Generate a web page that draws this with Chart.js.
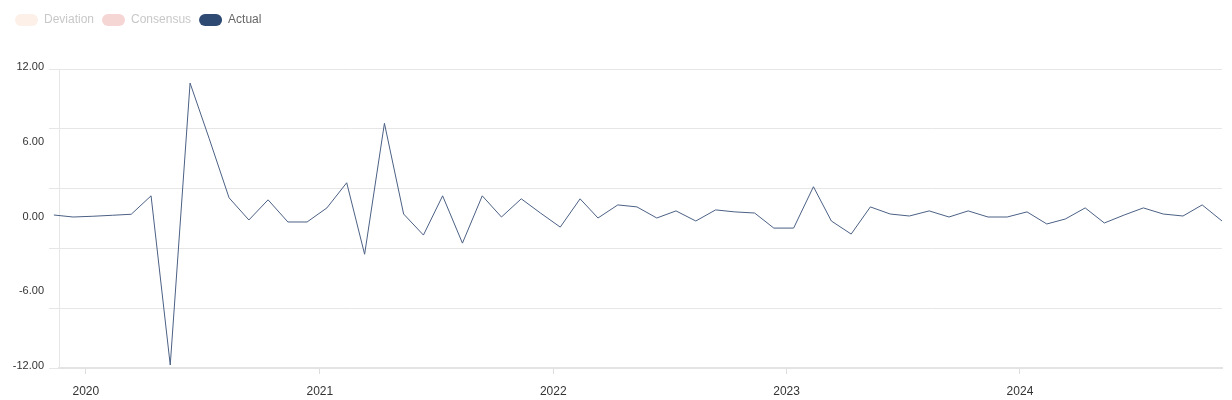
<!DOCTYPE html>
<html>
<head>
<meta charset="utf-8">
<script src="https://cdn.jsdelivr.net/npm/chart.js@4.4.1/dist/chart.umd.min.js"></script>
<style>
  html, body { margin: 0; padding: 0; background: #fff; }
  #wrap { width: 1232px; height: 400px; }
</style>
</head>
<body>
<div id="wrap"><canvas id="myChart"></canvas></div>
<script>
// monthly releases, Nov 2019 .. Nov 2024 (61 points)
const firstYear = 2019;
const firstMonth = 10; // November, 0-based
const releaseDay = 12;
const actual = [
  0.28, 0.12, 0.18, 0.26, 0.34, 1.82, -11.76, 10.87, 6.4, 1.66, -0.12, 1.5,
  -0.28, -0.28, 0.85, 2.87, -2.87, 7.64, 0.36, -1.33, 1.82, -1.98, 1.82, 0.12,
  1.58, 0.44, -0.69, 1.58, 0.04, 1.09, 0.93, 0.04, 0.61, -0.2, 0.69, 0.53,
  0.44, -0.77, -0.77, 2.55, -0.2, -1.25, 0.93, 0.36, 0.2, 0.61, 0.12, 0.61,
  0.12, 0.12, 0.53, -0.44, -0.04, 0.85, -0.36, 0.28, 0.85, 0.36, 0.2, 1.09,
  -0.2
];
const deviation = [];
const consensus = [];
const seriesNames = ["Deviation", "Consensus", "Actual"];
const legendFill = ["#fcf0e8", "#f6d5d5", "#2e4a72"];
const legendText = ["#c8c8c8", "#c8c8c8", "#666666"];
const yearTicks = [2020, 2021, 2022, 2023, 2024];
const yLabelTicks = [-12, -6, 0, 6, 12];
const yGridTicks = [-12, -7.2, -2.4, 2.4, 7.2, 12];
const xStart = Date.UTC(2019, 10, 20);
const xEnd = Date.UTC(2024, 10, 12);

const points = actual.map((v, i) => ({ x: Date.UTC(firstYear, firstMonth + i, releaseDay), y: v }));

Chart.defaults.font.family = 'Arial, "Liberation Sans", sans-serif';

const gridColor = (ctx) => (yGridTicks.includes(ctx.tick.value) ? "#e6e6e6" : "rgba(0,0,0,0)");

// push the plot down below the legend
const legendSpace = {
  id: "legendSpace",
  beforeInit(chart) {
    const fit = chart.legend.fit;
    chart.legend.fit = function () {
      fit.bind(chart.legend)();
      this.height += 33;
    };
  },
};

new Chart(document.getElementById("myChart"), {
  type: "line",
  data: {
    datasets: [
      { label: seriesNames[0], data: deviation, hidden: true, borderColor: legendFill[0] },
      { label: seriesNames[1], data: consensus, hidden: true, borderColor: legendFill[1] },
      {
        label: seriesNames[2],
        data: points,
        borderColor: "#4b6084",
        borderWidth: 1,
        pointRadius: 0,
        tension: 0,
        clip: false,
      },
    ],
  },
  options: {
    responsive: true,
    maintainAspectRatio: false,
    animation: false,
    layout: { padding: { top: 6, left: 7, right: 10, bottom: 0 } },
    plugins: {
      tooltip: { enabled: false },
      legend: {
        position: "top",
        align: "start",
        labels: {
          boxWidth: 23,
          boxHeight: 12,
          padding: 8,
          useBorderRadius: true,
          borderRadius: 6,
          font: { size: 12 },
          generateLabels(chart) {
            return chart.data.datasets.map((ds, i) => ({
              text: ds.label,
              fillStyle: legendFill[i],
              strokeStyle: legendFill[i],
              lineWidth: 0,
              borderRadius: 6,
              fontColor: legendText[i],
              hidden: false,
              datasetIndex: i,
            }));
          },
        },
      },
    },
    scales: {
      x: {
        type: "linear",
        min: xStart,
        max: xEnd,
        afterBuildTicks(scale) {
          scale.ticks = yearTicks.map((y) => ({ value: Date.UTC(y, 0, 1) }));
        },
        afterFit(scale) {
          scale.height = 32;
        },
        grid: { drawOnChartArea: false, drawTicks: true, tickLength: 6, color: "#dddddd" },
        border: { color: "#e3e3e3", width: 2 },
        ticks: {
          padding: 10,
          color: "#333333",
          font: { size: 12 },
          maxRotation: 0,
          autoSkip: false,
          callback: (v) => new Date(v).getUTCFullYear(),
        },
      },
      y: {
        min: -12,
        max: 12,
        afterBuildTicks(scale) {
          scale.ticks = [...new Set([...yGridTicks, ...yLabelTicks])]
            .sort((a, b) => a - b)
            .map((v) => ({ value: v }));
        },
        afterFit(scale) {
          scale.width = 52;
        },
        grid: { color: gridColor, tickColor: gridColor, tickLength: 10 },
        border: { color: "#e6e6e6", width: 1 },
        ticks: {
          padding: 5,
          labelOffset: -2,
          color: "#333333",
          font: { size: 11 },
          autoSkip: false,
          callback: (v) => (yLabelTicks.includes(v) ? v.toFixed(2) : ""),
        },
      },
    },
  },
  plugins: [legendSpace],
});
</script>
</body>
</html>
